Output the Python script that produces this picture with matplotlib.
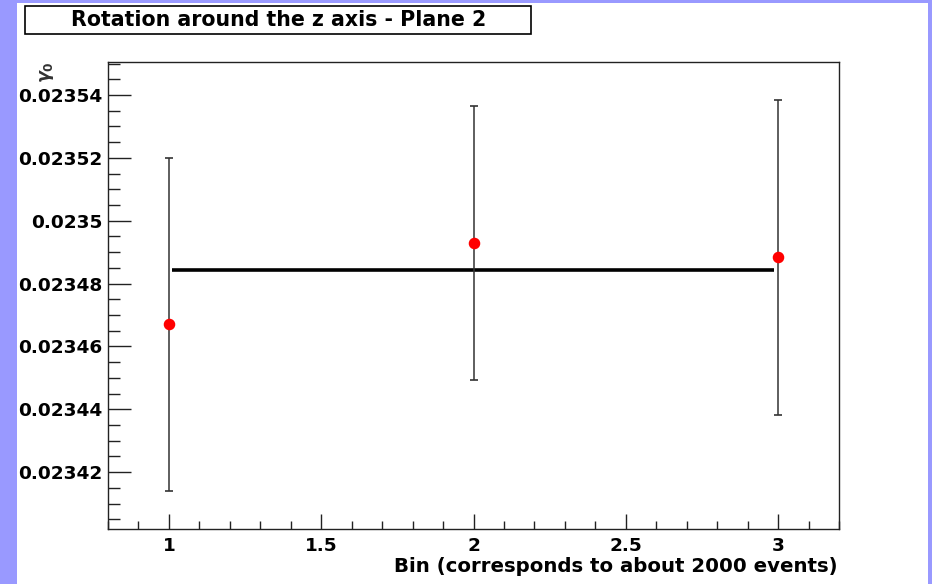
import matplotlib
matplotlib.use("Agg")
import matplotlib.pyplot as plt
from matplotlib.patches import Rectangle
from matplotlib.ticker import FormatStrFormatter, MultipleLocator


BINS = [1, 2, 3]
GAMMA0 = [0.0234670, 0.0234930, 0.0234883]
GAMMA0_ERR = [0.0000530, 0.0000436, 0.0000502]

# constant fit drawn across the bins
FIT_X = [1.01, 2.985]
FIT_Y = [0.0234843, 0.0234843]

TITLE = "Rotation around the z axis - Plane 2"
XLABEL = "Bin (corresponds to about 2000 events)"
YLABEL = r"$\gamma_{0}$"

CANVAS_COLOR = "#9999ff"
FRAME_COLOR = "#222222"
FONT = "DejaVu Sans"


def setup_style():
    plt.rcParams.update(
        {
            "font.family": FONT,
            "font.weight": "bold",
            "mathtext.fontset": "dejavusans",
            "axes.unicode_minus": False,
        }
    )


def add_canvas(fig):
    # purple pad border around a white canvas
    fig.patch.set_facecolor(CANVAS_COLOR)
    fig.patches.append(
        Rectangle(
            (17 / 932, 0.0),
            (928 - 17) / 932,
            (584 - 3) / 584,
            transform=fig.transFigure,
            facecolor="white",
            edgecolor="none",
            zorder=-2,
        )
    )
    # title box
    fig.patches.append(
        Rectangle(
            (25 / 932, (584 - 34) / 584),
            506 / 932,
            28 / 584,
            transform=fig.transFigure,
            facecolor="white",
            edgecolor="black",
            linewidth=1.2,
            zorder=1,
        )
    )
    fig.text(279 / 932, (584 - 20.5) / 584, TITLE, ha="center", va="center",
             fontsize=14.8, fontweight="bold", zorder=2)


def plot_points(ax):
    ax.errorbar(
        BINS,
        GAMMA0,
        yerr=GAMMA0_ERR,
        fmt="o",
        color="red",
        markersize=7.3,
        ecolor="#333333",
        elinewidth=1.1,
        capsize=2.6,
        capthick=1.2,
        zorder=3,
    )
    ax.plot(FIT_X, FIT_Y, color="black", linewidth=2.6, zorder=2, solid_capstyle="butt")


def style_axes(ax):
    ax.set_xlim(0.8, 3.2)
    ax.set_ylim(0.0234019, 0.0235505)

    ax.xaxis.set_major_locator(MultipleLocator(0.5))
    ax.xaxis.set_minor_locator(MultipleLocator(0.1))
    ax.yaxis.set_major_locator(MultipleLocator(0.00002))
    ax.yaxis.set_minor_locator(MultipleLocator(0.000005))
    ax.xaxis.set_major_formatter(FormatStrFormatter("%g"))
    ax.yaxis.set_major_formatter(FormatStrFormatter("%g"))

    ax.tick_params(axis="x", which="major", direction="in", length=11, width=1.0,
                   color=FRAME_COLOR, labelsize=13.3, pad=6)
    ax.tick_params(axis="x", which="minor", direction="in", length=5.5, width=1.0,
                   color=FRAME_COLOR)
    ax.tick_params(axis="y", which="major", direction="in", length=16.5, width=1.0,
                   color=FRAME_COLOR, labelsize=13.3, pad=4)
    ax.tick_params(axis="y", which="minor", direction="in", length=8.5, width=1.0,
                   color=FRAME_COLOR)
    for label in ax.get_xticklabels() + ax.get_yticklabels():
        label.set_fontweight("bold")

    for spine in ax.spines.values():
        spine.set_linewidth(1.0)
        spine.set_edgecolor(FRAME_COLOR)


def add_labels(fig):
    fig.text(838 / 932, (584 - 567) / 584, XLABEL, ha="right", va="center",
             fontsize=14.2, fontweight="bold")
    fig.text(47 / 932, (584 - 61) / 584, YLABEL, ha="center", va="top",
             rotation=90, fontsize=12.5, fontweight="normal", color="#333333")


def main():
    setup_style()
    fig = plt.figure(figsize=(9.32, 5.84), dpi=100)
    add_canvas(fig)

    ax = fig.add_axes([108 / 932, 55 / 584, 731 / 932, 467 / 584])
    ax.set_zorder(3)
    ax.set_facecolor("white")
    plot_points(ax)
    style_axes(ax)
    add_labels(fig)

    fig.savefig("out.png", dpi=100, facecolor=fig.get_facecolor())
    plt.close(fig)


if __name__ == "__main__":
    main()
